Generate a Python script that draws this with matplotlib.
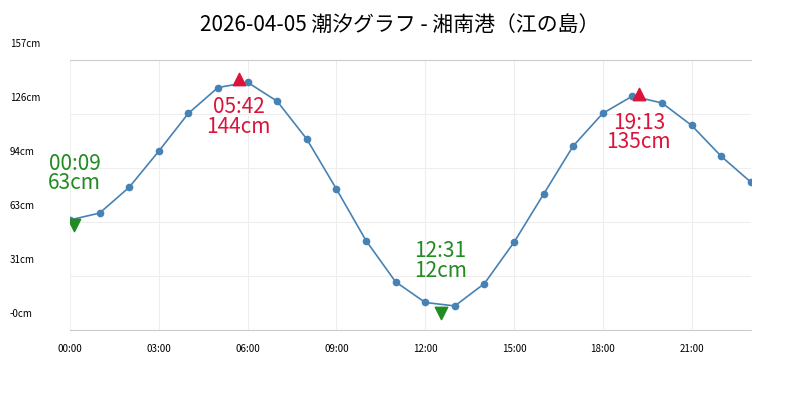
import matplotlib
matplotlib.use("Agg")
import matplotlib.pyplot as plt
from matplotlib.transforms import blended_transform_factory, offset_copy

plt.rcParams['font.family'] = ['Noto Sans CJK JP', 'DejaVu Sans']

hours = list(range(24))
levels = [64, 68, 83, 104, 126, 141, 144, 133, 111, 82, 52, 28, 16, 14, 27, 51, 79, 107, 126, 136, 132, 119, 101, 86]
highs_t = [5.7, 19.22]
highs_v = [144, 135]
highs_lbl = ["05:42\n144cm", "19:13\n135cm"]
lows_t = [0.15, 12.52]
lows_v = [63, 12]
lows_lbl = ["00:09\n63cm", "12:31\n12cm"]
yticks = [0, 31.4, 62.8, 94.2, 125.6, 157]
ylabels = ["-0cm", "31cm", "63cm", "94cm", "126cm", "157cm"]
xticks = [0, 3, 6, 9, 12, 15, 18, 21]
xlabels = ["00:00", "03:00", "06:00", "09:00", "12:00", "15:00", "18:00", "21:00"]

fig = plt.figure(figsize=(8, 4), dpi=100)
ax = fig.add_axes([0.0875, 0.175, 0.851, 0.675])
ax.plot(hours, levels, color='#4682b4', lw=1.2, marker='o', ms=4.5, zorder=3)
ax.scatter(highs_t, [v + 2 for v in highs_v], marker='^', s=80, color='#dc143c', zorder=4)
ax.scatter(lows_t, [v - 2 for v in lows_v], marker='v', s=80, color='#228b22', zorder=4)
for t, v, l in zip(highs_t, highs_v, highs_lbl):
    ax.text(t, v - 8, l, ha='center', va='top', color='#dc143c', fontsize=15, linespacing=0.85)
for t, v, l in zip(lows_t, lows_v, lows_lbl):
    ax.text(t, v + 16, l, ha='center', va='bottom', color='#228b22', fontsize=15, linespacing=0.85)

ax.set_xlim(0, 23)
ax.set_ylim(0, 157)
ax.set_xticks(xticks)
ax.set_xticklabels(xlabels, fontsize=7)
ax.set_yticks(yticks)
ax.set_yticklabels([])
ax.tick_params(length=0, pad=10)
ax.grid(True, color='#eeeeee', lw=0.8)
for s in ['left', 'right']:
    ax.spines[s].set_visible(False)
ax.spines['top'].set_color('#cccccc')
ax.spines['bottom'].set_color('#cccccc')
tr = blended_transform_factory(fig.transFigure, ax.transData)
tr = offset_copy(tr, fig=fig, x=0, y=8, units='points')
for v, l in zip(yticks, ylabels):
    ax.text(0.0125, v, l, transform=tr, fontsize=7, ha='left', va='bottom')
fig.suptitle("2026-04-05 潮汐グラフ - 湘南港（江の島）", fontsize=15, y=0.965)
fig.savefig("out.png")
